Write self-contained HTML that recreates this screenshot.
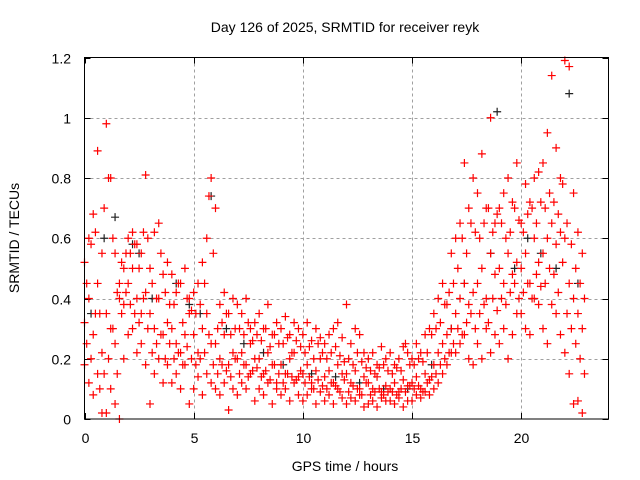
<!DOCTYPE html>
<html><head><meta charset="utf-8"><style>
html,body{margin:0;padding:0;background:#fff;}
svg{display:block;font-family:"Liberation Sans",sans-serif;}
</style></head><body>
<svg id="chart" width="640" height="480" viewBox="0 0 640 480" xmlns="http://www.w3.org/2000/svg">
<rect x="0" y="0" width="640" height="480" fill="#fff"/>
<text x="345" y="32" font-size="14" text-anchor="middle" fill="#000">Day 126 of 2025, SRMTID for receiver reyk</text>
<text x="345" y="471" font-size="14" text-anchor="middle" fill="#000">GPS time / hours</text>
<text transform="translate(19,238) rotate(-90)" font-size="14" text-anchor="middle" fill="#000">SRMTID / TECUs</text>
<g id="grid"></g>
<g id="ticks"></g>
<g id="marks"></g>
<rect x="84.5" y="57.5" width="524" height="361.5" fill="none" stroke="#000" stroke-width="1"/>
</svg>
<script>
const xTicks=[0,5,10,15,20];
const yTicks=[0,0.2,0.4,0.6,0.8,1,1.2];
const yTickLabels=["0","0.2","0.4","0.6","0.8","1","1.2"];
const hoursA=[0,0.2,0.4,0.6,0.8,1,1.2,1.4,1.6,1.8,2,2.2,2.4,2.6,2.8,3,3.2,3.4,3.6,3.8,4,4.2,4.4,4.6,4.8,5,5.2,5.4,5.6,5.8,6,6.2,6.4,6.6,6.8,7,7.2,7.4,7.6,7.8,8,8.2,8.4,8.6,8.8,9,9.2,9.4,9.6,9.8,10,10.2,10.4,10.6,10.8,11,11.2,11.4,11.6,11.8,12,12.2,12.4,12.6,12.8,13,13.2,13.4,13.6,13.8,14,14.2,14.4,14.6,14.8,15,15.2,15.4,15.6,15.8,16,16.2,16.4,16.6,16.8,17,17.2,17.4,17.6,17.8,18,18.2,18.4,18.6,18.8,19,19.2,19.4,19.6,19.8,20,20.2,20.4,20.6,20.8,21,21.2,21.4,21.6,21.8,22,22.2,22.4,22.6,22.8];
const hoursB=[0.1,0.3,0.5,0.7,0.9,1.1,1.3,1.5,1.7,1.9,2.1,2.3,2.5,2.7,2.9,3.1,3.3,3.5,3.7,3.9,4.1,4.3,4.5,4.7,4.9,5.1,5.3,5.5,5.7,5.9,6.1,6.3,6.5,6.7,6.9,7.1,7.3,7.5,7.7,7.9,8.1,8.3,8.5,8.7,8.9,9.1,9.3,9.5,9.7,9.9,10.1,10.3,10.5,10.7,10.9,11.1,11.3,11.5,11.7,11.9,12.1,12.3,12.5,12.7,12.9,13.1,13.3,13.5,13.7,13.9,14.1,14.3,14.5,14.7,14.9,15.1,15.3,15.5,15.7,15.9,16.1,16.3,16.5,16.7,16.9,17.1,17.3,17.5,17.7,17.9,18.1,18.3,18.5,18.7,18.9,19.1,19.3,19.5,19.7,19.9,20.1,20.3,20.5,20.7,20.9,21.1,21.3,21.5,21.7,21.9,22.1,22.3,22.5,22.7,22.9];
const redA1=[.52,.60,.68,.89,.55,.98,.80,.55,.45,.50,.60,.62,.58,.55,.81,.50,.62,.65,.48,.52,.48,.42,.45,.50,.40,.42,.45,.52,.60,.80,.70,.38,.42,.35,.40,.38,.35,.40,.30,.32,.35,.30,.38,.28,.32,.30,.34,.28,.32,.30,.28,.32,.26,.30,.27,.25,.28,.30,.32,.27,.38,.25,.30,.28,.22,.20,.22,.18,.24,.20,.22,.18,.20,.24,.22,.20,.25,.22,.28,.30,.35,.40,.45,.38,.55,.60,.65,.85,.70,.80,.75,.88,.70,1.00,.65,.70,.75,.80,.72,.85,.65,.78,.72,.80,.82,.85,.95,1.14,.90,.80,1.19,1.17,.75,.62,.55];
const redA2=[.32,.40,.28,.45,.22,.35,.30,.25,.40,.38,.45,.50,.40,.35,.42,.35,.30,.40,.28,.32,.30,.25,.22,.28,.35,.28,.22,.30,.35,.25,.25,.20,.28,.18,.22,.20,.22,.18,.25,.20,.20,.15,.22,.18,.12,.18,.15,.20,.22,.14,.15,.18,.12,.16,.20,.14,.16,.12,.18,.15,.15,.12,.16,.10,.14,.12,.10,.14,.09,.11,.10,.12,.09,.13,.11,.12,.14,.10,.15,.13,.18,.22,.25,.28,.30,.35,.40,.45,.38,.42,.45,.50,.40,.55,.48,.50,.45,.55,.48,.52,.50,.55,.45,.60,.52,.55,.60,.65,.58,.62,.60,.45,.40,.35,.30];
const redA3=[.18,.12,.08,.15,.02,.02,.10,.05,.00,.20,.28,.30,.22,.25,.18,.05,.15,.20,.12,.18,.12,.15,.10,.18,.05,.10,.14,.08,.15,.12,.10,.08,.12,.03,.10,.08,.12,.10,.15,.06,.10,.08,.12,.05,.10,.08,.10,.06,.12,.08,.06,.08,.10,.05,.09,.06,.08,.05,.10,.07,.05,.07,.06,.08,.04,.05,.06,.04,.07,.06,.06,.05,.07,.04,.06,.06,.08,.07,.09,.08,.10,.12,.15,.18,.22,.22,.25,.28,.20,.18,.25,.20,.30,.22,.28,.25,.30,.20,.28,.35,.35,.30,.28,.40,.38,.30,.25,.38,.35,.28,.22,.15,.05,.06,.02];
const redB1=[.45,.58,.62,.35,.70,.80,.60,.42,.52,.55,.55,.58,.50,.62,.60,.45,.40,.55,.42,.38,.38,.45,.32,.40,.36,.35,.38,.45,.74,.55,.30,.32,.35,.28,.30,.30,.28,.32,.26,.28,.26,.30,.24,.28,.25,.25,.27,.22,.26,.24,.22,.24,.20,.25,.22,.20,.22,.24,.21,.19,.20,.18,.22,.19,.17,.16,.15,.17,.18,.16,.15,.17,.16,.25,.18,.18,.20,.19,.22,.28,.30,.32,.38,.42,.45,.50,.60,.55,.65,.62,.60,.65,.70,.62,.68,.65,.60,.62,.70,.66,.62,.68,.70,.65,.72,.70,.75,.72,.68,.78,.65,.58,.50,.45,.40];
const redB2=[.25,.20,.35,.10,.15,.20,.30,.15,.35,.42,.38,.35,.32,.40,.30,.22,.25,.28,.20,.25,.20,.22,.18,.24,.20,.18,.20,.22,.28,.18,.15,.18,.16,.14,.20,.15,.18,.14,.16,.17,.14,.16,.13,.18,.15,.12,.15,.14,.13,.16,.12,.14,.10,.13,.11,.10,.12,.11,.09,.13,.09,.11,.10,.08,.12,.08,.09,.10,.08,.09,.09,.08,.10,.09,.11,.10,.11,.09,.12,.14,.15,.18,.20,.22,.25,.30,.28,.32,.35,.30,.35,.38,.32,.40,.36,.40,.38,.42,.45,.40,.42,.45,.40,.48,.44,.45,.50,.48,.42,.52,.35,.30,.25,.20,.15];
const blackHours=[0.3,0.9,1.4,2.2,2.5,3.1,4.2,4.8,5.3,5.8,6.5,7.3,8.2,9.1,10.4,11.5,12.6,13.7,14.8,15.9,16.8,17.4,18.6,18.9,19.7,20.3,20.9,21.6,22.2,22.6];
const blackVals=[.35,.60,.67,.58,.55,.40,.45,.38,.35,.74,.30,.25,.22,.18,.15,.14,.12,.10,.10,.18,.30,.45,.55,1.02,.50,.60,.55,.50,1.08,.45];

const X0=84.5,X1=608.5,Y0=419,Y1=57.5,XMAX=24,YMAX=1.2;
const xs=v=>X0+(X1-X0)*v/XMAX;
const ys=v=>Y0-(Y0-Y1)*v/YMAX;
const NS="http://www.w3.org/2000/svg";
function mk(tag,attrs,parent){const e=document.createElementNS(NS,tag);for(const k in attrs)e.setAttribute(k,attrs[k]);parent.appendChild(e);return e;}
const grid=document.getElementById('grid'),ticks=document.getElementById('ticks'),marks=document.getElementById('marks');
xTicks.forEach(t=>{const x=Math.round(xs(t))+0.5;
 if(t>0){const g=mk('line',{x1:x,x2:x,y1:Y1,y2:Y0,stroke:'#a0a0a0','stroke-dasharray':'3,3','stroke-width':1},grid);
 
 }
 const tk=mk('path',{d:`M${x},${Y0}v-6M${x},${Y1}v6`,stroke:'#000','stroke-width':1},ticks);
 
 
 const lb=mk('text',{x:x,y:443,'font-size':14,'text-anchor':'middle',fill:'#000'},ticks);lb.textContent=t;
 
 
});
yTicks.forEach((t,i)=>{const y=Math.round(ys(t))+0.5;
 if(t>0&&t<YMAX){const g=mk('line',{x1:X0,x2:X1,y1:y,y2:y,stroke:'#a0a0a0','stroke-dasharray':'3,3','stroke-width':1},grid);
 
 }
 const tk=mk('path',{d:`M${X0},${y}h6M${X1},${y}h-6`,stroke:'#000','stroke-width':1},ticks);
 
 
 const lb=mk('text',{x:71,y:y+5,'font-size':14,'text-anchor':'end',fill:'#000'},ticks);lb.textContent=yTickLabels[i];
 
 
});
function plus(h,v,color,name){const x=xs(h),y=ys(v);
 const p=mk('path',{d:`M${x-4},${y}h8M${x},${y-4}v8`,stroke:color,'stroke-width':1.2,fill:'none'},marks);
 
 }
blackHours.forEach((h,i)=>plus(h,blackVals[i],'#222','point-black'));
[[hoursA,redA1],[hoursA,redA2],[hoursA,redA3],[hoursB,redB1],[hoursB,redB2]].forEach(([hs,vs])=>hs.forEach((h,i)=>plus(h,vs[i],'#ff0000','point-red')));
</script>
</body></html>
